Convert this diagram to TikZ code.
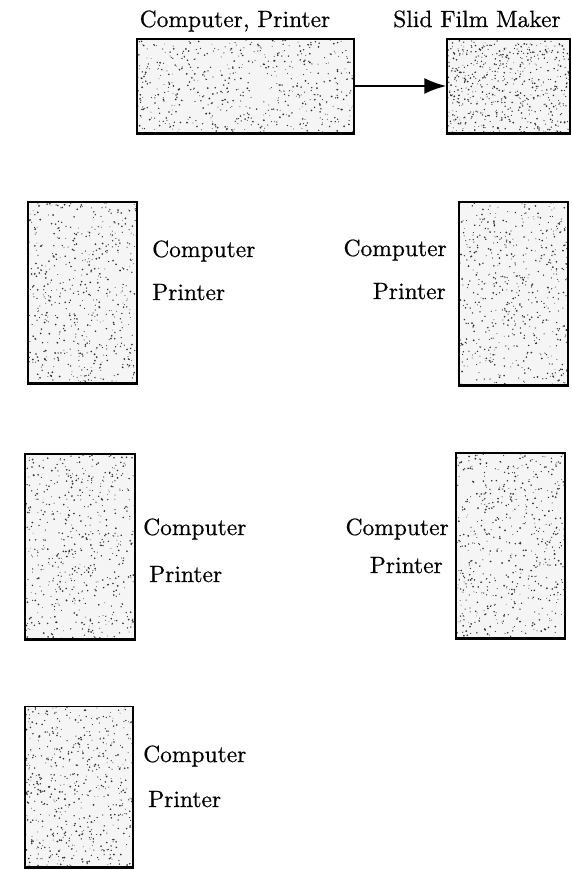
\documentclass[tikz,border=0pt]{standalone}
\usepackage{fontspec}
\newfontfamily\labfont[Extension=.otf, FakeBold=0.6]{lmroman10-regular}
\usetikzlibrary{arrows.meta,calc}
\begin{document}
\begin{tikzpicture}[x=1pt,y=-1pt,
  lab/.style={font=\labfont\fontsize{23.5}{27}\selectfont, inner sep=0pt, text=black},
  panel/.style 2 args={draw=black, line width=1.5pt, inner sep=0pt, fill=black!4,
    minimum width=#1pt, minimum height=#2pt,
    path picture={
      \path (path picture bounding box.north west) coordinate (pnw)
            (path picture bounding box.south east) coordinate (pse);
      \foreach \k in {1,...,560}{
        \pgfmathsetmacro\rr{0.4+0.6*rnd}
        \fill[black!80] let \p1=(pnw), \p2=(pse) in
          ({\x1+rnd*(\x2-\x1)},{\y1+rnd*(\y2-\y1)}) circle [radius=\rr pt];
      }
    },
    append after command={\pgfextra{\draw[line width=2.6pt]
      (\tikzlastnode.south west) -- (\tikzlastnode.south east);}}},
  link/.style={-{Latex[length=22pt,width=16pt]}, line width=2pt}
]
\pgfmathsetseed{4242}
\useasboundingbox (0,0) rectangle (572,870);

% top row
\node[panel={217}{94}] (cp) at (245.5,86) {};
\node[panel={123}{94}] (sf) at (508.5,86) {};
\node[lab, anchor=base] (cplab) at (235,27) {Computer, Printer};
\node[lab, anchor=base] (sflab) at (477,27) {Slid Film Maker};
\draw[link] (cp.east) -- (sf.west);

% second row
\node[panel={109}{181}] (b2l) at (82.5,292.5) {};
\node[lab, anchor=base west] (c2l) at (152,257) {Computer};
\node[lab, anchor=base west] (p2l) at (152,300) {Printer};

\node[panel={109}{183}] (b2r) at (513.5,293.5) {};
\node[lab, anchor=base east] (c2r) at (447,256) {Computer};
\node[lab, anchor=base east] (p2r) at (446,299) {Printer};

% third row
\node[panel={110}{185}] (b3l) at (80,546.5) {};
\node[lab, anchor=base west] (c3l) at (143,535) {Computer};
\node[lab, anchor=base west] (p3l) at (149,582) {Printer};

\node[panel={109}{185}] (b3r) at (510.5,545.5) {};
\node[lab, anchor=base east] (c3r) at (449,535) {Computer};
\node[lab, anchor=base east] (p3r) at (443,573) {Printer};

% fourth row
\node[panel={108}{160}] (b4l) at (79,786.5) {};
\node[lab, anchor=base west] (c4l) at (143,762) {Computer};
\node[lab, anchor=base west] (p4l) at (148,807) {Printer};
\end{tikzpicture}
\end{document}
